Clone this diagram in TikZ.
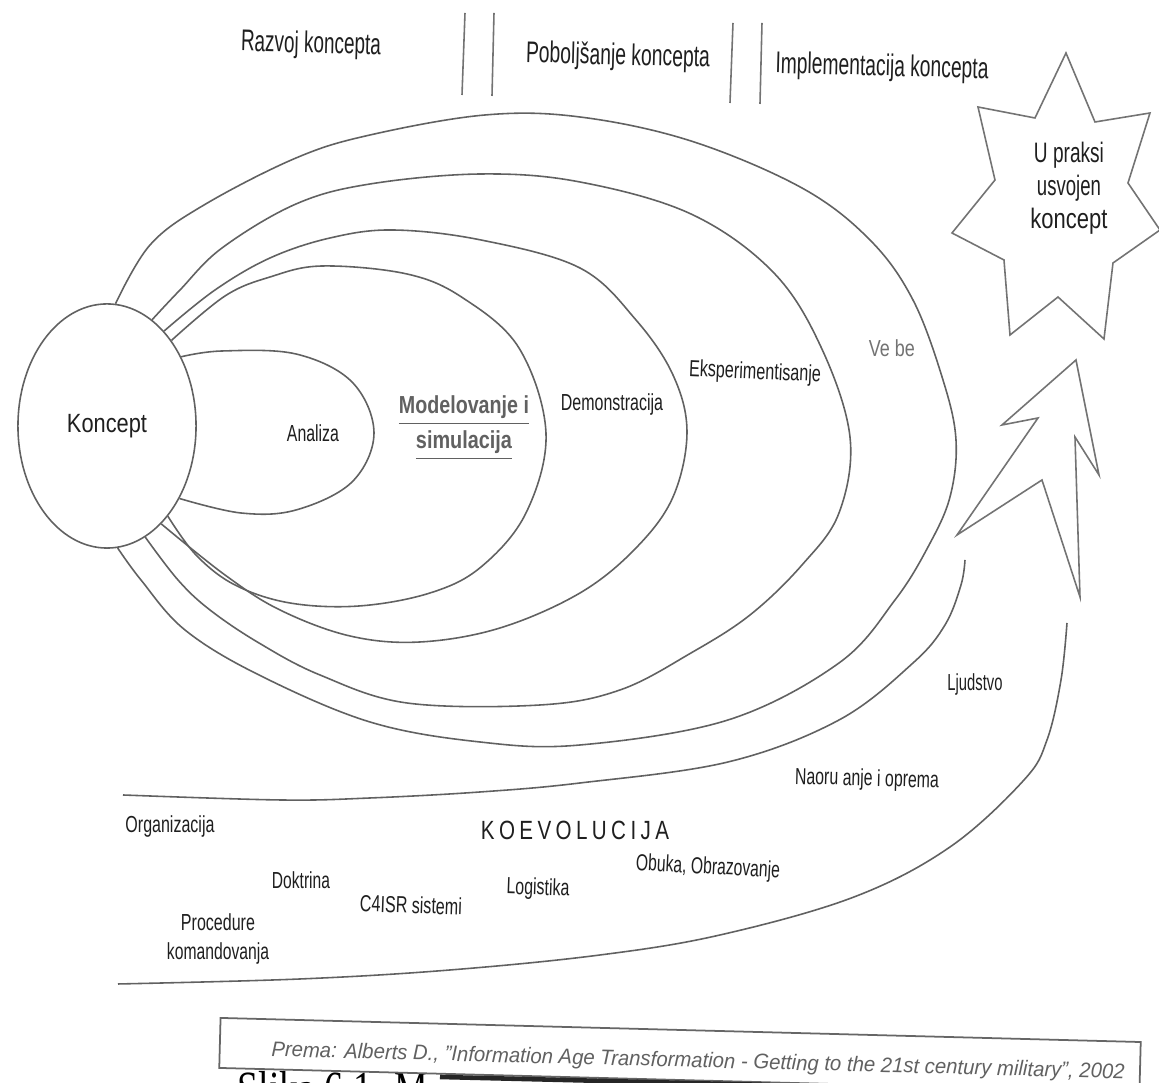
\documentclass[tikz,border=0pt]{standalone}
\usepackage{fontspec}
\setmainfont{Liberation Sans}
\newfontfamily\captionserif{Liberation Serif}
\usetikzlibrary{shapes.geometric}
% fix a text to a given width, keeping its natural height
\newcommand{\wfit}[2]{\resizebox{#1}{\height}{#2}}
\newcommand{\setfs}[1]{\fontsize{#1}{#1}\selectfont}
\begin{document}
\begin{tikzpicture}[x=0.01cm,y=-0.01cm,
  curve/.style={draw=black!62,line width=0.45pt},
  outline/.style={draw=black!55,line width=0.45pt,line join=miter},
  txt/.style={inner sep=0pt,text=black!88},
  lbl/.style={txt,font=\setfs{6.6}},
  head/.style={txt,font=\setfs{8.5},rotate=-1.5},
]
\useasboundingbox (0,0) rectangle (1159,1083);
\clip (0,0) rectangle (1159,1083);
\fill[white] (0,0) rectangle (1159,1083);

% phase headings and their dividers
\node[head] (razvoj) at (311,45) {\wfit{1.40cm}{Razvoj koncepta}};
\node[head] (poboljsanje) at (618,57) {\wfit{1.84cm}{Poboljšanje koncepta}};
\node[head] (impl) at (882,68) {\wfit{2.13cm}{Implementacija koncepta}};
\draw[outline] (465,13) -- (462,95);
\draw[outline] (494,13) -- (492,96);
\draw[outline] (733,23) -- (730,103);
\draw[outline] (762,23) -- (760,104);

% seven-pointed star
\draw[outline] (1066,53) -- (1095,122) -- (1150,113) -- (1128,183) -- (1160,230)
  -- (1113,263) -- (1104,339) -- (1058,297) -- (1010,335) -- (1004,260)
  -- (952,233) -- (995,180) -- (978,107) -- (1035,118) -- cycle;
\node[txt,font=\fontsize{8}{9.4}\selectfont,align=center] (adopted) at (1069,188)
  {\wfit{0.70cm}{U praksi}\\\wfit{0.64cm}{usvojen}\\\wfit{0.77cm}{koncept}};

% lightning arrow
\draw[outline] (1076,360) -- (1099,475) -- (1075,437) -- (1080,597) -- (1042,480)
  -- (957,535) -- (1038,418) -- (1002,425) -- cycle;

% concept
\node[ellipse,draw=black!62,line width=0.45pt,minimum width=1.78cm,minimum height=2.44cm,
  inner sep=0pt,font=\setfs{7.5},text=black!88] (koncept) at (107,426) {\wfit{0.80cm}{Koncept}};

% nested loops
\draw[curve] plot[smooth,tension=0.6] coordinates {(koncept.43) (222,351) (296,354) (352,382)
  (374,433) (352,482) (296,510) (241,513) (koncept.315)};
\draw[curve] plot[smooth,tension=0.6] coordinates {(koncept.53) (225,296) (270,277) (322,266)
  (407,274) (463,298) (519,348) (546,433) (526,513) (481,567) (430,593) (359,606) (290,603)
  (235,585) (196,555) (koncept.304)};
\draw[curve] plot[smooth,tension=0.6] coordinates {(koncept.59) (215,290) (270,258) (330,238)
  (393,230) (481,240) (580,268) (636,320) (673,375) (687,432) (673,497) (636,548) (580,593)
  (500,628) (420,642) (350,636) (280,610) (225,575) (koncept.299)};
\draw[curve] plot[smooth,tension=0.6] coordinates {(koncept.67) (180,290) (222,248) (296,204)
  (370,184) (481,174) (580,182) (691,214) (773,272) (821,347) (850,437) (839,513) (802,565)
  (750,615) (691,653) (620,690) (540,705) (407,703) (320,675) (259,643) (210,610) (178,580)
  (koncept.289)};
\draw[curve] plot[smooth,tension=0.6] coordinates {(koncept.86) (150,245) (204,205)
  (296,158) (370,135) (485,115) (580,117) (691,141) (802,188) (870,240) (913,300) (943,380)
  (956,440) (950,497) (928,547) (895,600) (839,663) (728,720) (580,745) (480,742) (370,722)
  (259,675) (185,630) (141,580) (koncept.275)};

% loop labels
\node[lbl] (analiza) at (313,433) {\wfit{0.52cm}{Analiza}};
\node[txt,font=\bfseries\fontsize{7}{10}\selectfont,text=black!62,align=center] (model) at (464,428)
  {\wfit{1.30cm}{\underline{Modelovanje i}}\\\wfit{0.96cm}{\underline{simulacija}}};
\node[lbl] (demo) at (612,405) {\wfit{1.02cm}{Demonstracija}};
\node[lbl,rotate=-2.5] (eksp) at (755,373) {\wfit{1.32cm}{Eksperimentisanje}};
\node[lbl,text=black!55] (vezbe) at (892,348) {\wfit{0.46cm}{Ve be}};

% coevolution band
\draw[curve] plot[smooth,tension=0.6] coordinates {(123,795) (281,800) (370,798) (480,792)
  (580,783) (728,762) (839,720) (913,663) (945,625) (961,585) (965,560)};
\draw[curve] plot[smooth,tension=0.6] coordinates {(118,984) (300,979) (450,970) (600,955)
  (720,935) (854,897) (950,847) (1024,780) (1047,740) (1061,680) (1067,623)};

\node[lbl] (ljudstvo) at (975,685) {\wfit{0.55cm}{Ljudstvo}};
\node[lbl,rotate=-1.5] (naoruzanje) at (867,780) {\wfit{1.44cm}{Naoru anje i oprema}};
\node[lbl] (organizacija) at (170,827) {\wfit{0.89cm}{Organizacija}};
\node[txt,font=\setfs{7.5}] (koev) at (575,830)
  {\wfit{1.88cm}{K\hspace{1.6pt}O\hspace{1.6pt}E\hspace{1.6pt}V\hspace{1.6pt}O\hspace{1.6pt}L\hspace{1.6pt}U\hspace{1.6pt}C\hspace{1.6pt}I\hspace{1.6pt}J\hspace{1.6pt}A}};
\node[lbl] (doktrina) at (301,880) {\wfit{0.58cm}{Doktrina}};
\node[lbl,rotate=-3] (obuka) at (708,868) {\wfit{1.44cm}{Obuka, Obrazovanje}};
\node[lbl,rotate=-2] (logistika) at (538,889) {\wfit{0.63cm}{Logistika}};
\node[lbl,rotate=-2] (c4isr) at (411,905) {\wfit{1.02cm}{C4ISR sistemi}};
\node[lbl,font=\fontsize{6.6}{8}\selectfont,align=center] (procedure) at (218,939)
  {\wfit{0.74cm}{Procedure}\\\wfit{1.02cm}{komandovanja}};

% page caption under the pasted source box
\node[anchor=base west,inner sep=0pt,font=\captionserif\setfs{14},text=black] (caption) at (237,1106)
  {\wfit{1.90cm}{Slika 6.1. M}};
\node[draw=black!60,line width=0.5pt,fill=white,rotate=-1.5,minimum width=9.20cm,
  minimum height=0.50cm,inner sep=0pt] (srcbox) at (680,1055) {};
\node[txt,font=\setfs{6}\itshape,text=black!62,rotate=-1.5] (src) at (698,1062)
  {\wfit{8.53cm}{Prema: Alberts D., "Information Age Transformation - Getting to the 21st century military", 2002}};
\draw[line width=1.3pt,black!85] (440,1077) -- (770,1085);
\end{tikzpicture}
\end{document}
